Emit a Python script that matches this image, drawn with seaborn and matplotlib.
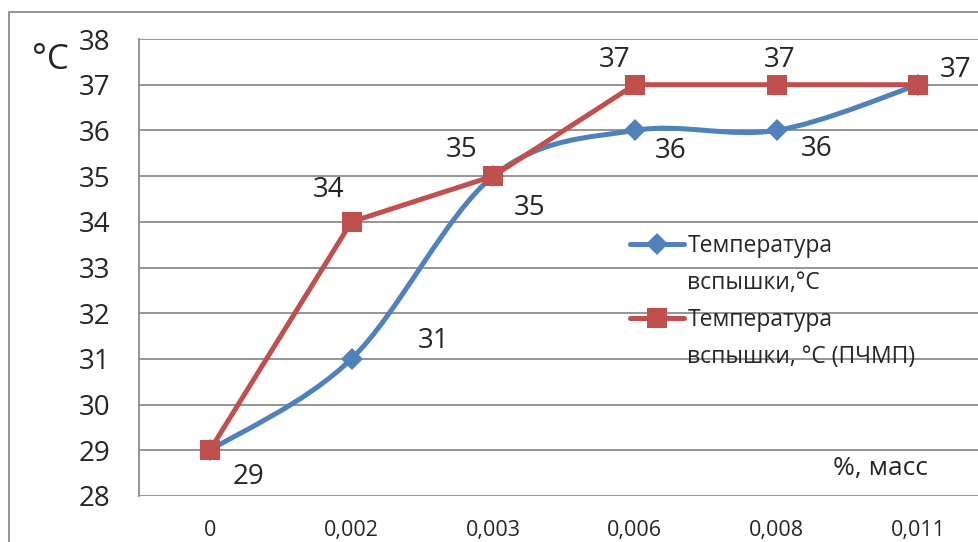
import numpy as np
import pandas as pd
import matplotlib
matplotlib.use("Agg")
import matplotlib.pyplot as plt
from matplotlib.path import Path
from matplotlib.patches import PathPatch, Rectangle
from matplotlib.lines import Line2D
from matplotlib.legend_handler import HandlerLine2D
import seaborn as sns

# --- data -------------------------------------------------------------
concentrations = ["0", "0,002", "0,003", "0,006", "0,008", "0,011"]
flash_temp = [29, 31, 35, 36, 36, 37]
flash_temp_pchmp = [29, 34, 35, 37, 37, 37]
y_ticks = [28, 29, 30, 31, 32, 33, 34, 35, 36, 37, 38]
series_names = ["Температура\nвспышки,°C", "Температура\nвспышки, °C (ПЧМП)"]

BLUE = "#4F81BD"
RED = "#C0504D"
GRID = "#8C8C8C"

sns.set_style("white")
plt.rcParams["font.family"] = ["Open Sans", "DejaVu Sans"]

W, H = 979, 542
fig = plt.figure(figsize=(W / 100, H / 100), dpi=100)
ax = fig.add_axes([139 / W, 1 - 496 / H, 850 / W, 457 / H])

df = pd.DataFrame({"x": concentrations, "blue": flash_temp, "red": flash_temp_pchmp})
pos = np.arange(len(concentrations), dtype=float)


def smooth_path(xs, ys):
    """Bezier path through the points, Catmull-Rom style tangents."""
    pts = np.column_stack([xs, ys])
    n = len(pts)
    verts = [pts[0]]
    codes = [Path.MOVETO]
    for i in range(n - 1):
        p0 = pts[i - 1] if i > 0 else pts[i]
        p1, p2 = pts[i], pts[i + 1]
        p3 = pts[i + 2] if i + 2 < n else pts[i + 1]
        c1 = p1 + (p2 - p0) / 6.0
        c2 = p2 - (p3 - p1) / 6.0
        verts += [c1, c2, p2]
        codes += [Path.CURVE4] * 3
    return Path(verts, codes)


# blue series: smoothed line + diamond markers
ax.add_patch(PathPatch(smooth_path(pos, np.asarray(flash_temp, float)),
                       facecolor="none", edgecolor=BLUE, lw=3.6,
                       capstyle="round", zorder=3))
sns.lineplot(data=df, x="x", y="blue", sort=False, ax=ax, color=BLUE,
             linestyle="", marker="D", markersize=11, markeredgewidth=0,
             zorder=4, legend=False)

# red series: straight segments + square markers
sns.lineplot(data=df, x="x", y="red", sort=False, ax=ax, color=RED,
             linewidth=3.6, marker="s", markersize=14, markeredgewidth=0,
             zorder=5, legend=False)

# --- axes styling -----------------------------------------------------
ax.set_xlim(-0.5, len(concentrations) - 0.5)
ax.set_ylim(28, 38)
ax.set_yticks(y_ticks)
ax.set_yticklabels([str(v) for v in y_ticks], fontsize=20)
ax.set_xticks(pos)
ax.set_xticklabels(concentrations, fontsize=15.5)
ax.tick_params(axis="y", length=0, pad=20.5)
ax.tick_params(axis="x", length=0, pad=17.5)
ax.set_xlabel("")
ax.set_ylabel("")
ax.grid(axis="y", color=GRID, lw=1.3)
ax.set_axisbelow(True)
for side in ["top", "right", "bottom"]:
    ax.spines[side].set_visible(False)
ax.spines["left"].set_color(GRID)
ax.spines["left"].set_linewidth(1.3)

# --- data labels ------------------------------------------------------
blue_offsets = [(39, -27), (82, 18), (36, -32), (36, -21), (40, -19), (37, 15)]
red_offsets = [None, (-23, 32), (-32, 26), (-20, 25), (3, 25), None]
for i, v in enumerate(flash_temp):
    dx, dy = blue_offsets[i]
    ax.annotate(str(v), (pos[i], v), xytext=(dx, dy), textcoords="offset pixels",
                ha="center", va="center", fontsize=20, zorder=6)
for i, v in enumerate(flash_temp_pchmp):
    if red_offsets[i] is None:
        continue
    dx, dy = red_offsets[i]
    ax.annotate(str(v), (pos[i], v), xytext=(dx, dy), textcoords="offset pixels",
                ha="center", va="center", fontsize=20, zorder=6)

# --- axis captions ----------------------------------------------------
fig.text(50 / W, 1 - 60 / H, "°C", fontsize=25, ha="center", va="center")
fig.text(880 / W, 1 - 468 / H, "%, масс", fontsize=19, ha="center", va="center")


# --- legend (handle aligned with the first text line) -----------------
class TopLineHandler(HandlerLine2D):
    def __init__(self, shift, **kw):
        super().__init__(**kw)
        self.shift = shift

    def create_artists(self, legend, orig_handle, xdescent, ydescent,
                       width, height, fontsize, trans):
        arts = super().create_artists(legend, orig_handle, xdescent, ydescent,
                                      width, height, fontsize, trans)
        for a in arts:
            a.set_ydata(np.asarray(a.get_ydata(), float) + self.shift)
        return arts


h_blue = Line2D([], [], color=BLUE, lw=3.6, marker="D", markersize=11,
                markeredgewidth=0, solid_capstyle="round")
h_red = Line2D([], [], color=RED, lw=3.6, marker="s", markersize=14,
               markeredgewidth=0, solid_capstyle="round")
leg = ax.legend([h_blue, h_red], series_names,
                handler_map={h_blue: TopLineHandler(15.5), h_red: TopLineHandler(15.5)},
                loc="upper left", bbox_to_anchor=(630 / W, 1 - 234 / H),
                bbox_transform=fig.transFigure, frameon=False, fontsize=16.5,
                handlelength=2.35, handletextpad=0.15, labelspacing=0.54,
                borderpad=0, borderaxespad=0)
for t in leg.get_texts():
    t.set_linespacing(1.75)

# outer chart frame
fig.patches.append(Rectangle((9 / W, -0.1), 1.2, 1 - 12 / H + 0.1,
                             transform=fig.transFigure, fill=False,
                             edgecolor=GRID, lw=1.3))

fig.savefig("out.png", dpi=100)
